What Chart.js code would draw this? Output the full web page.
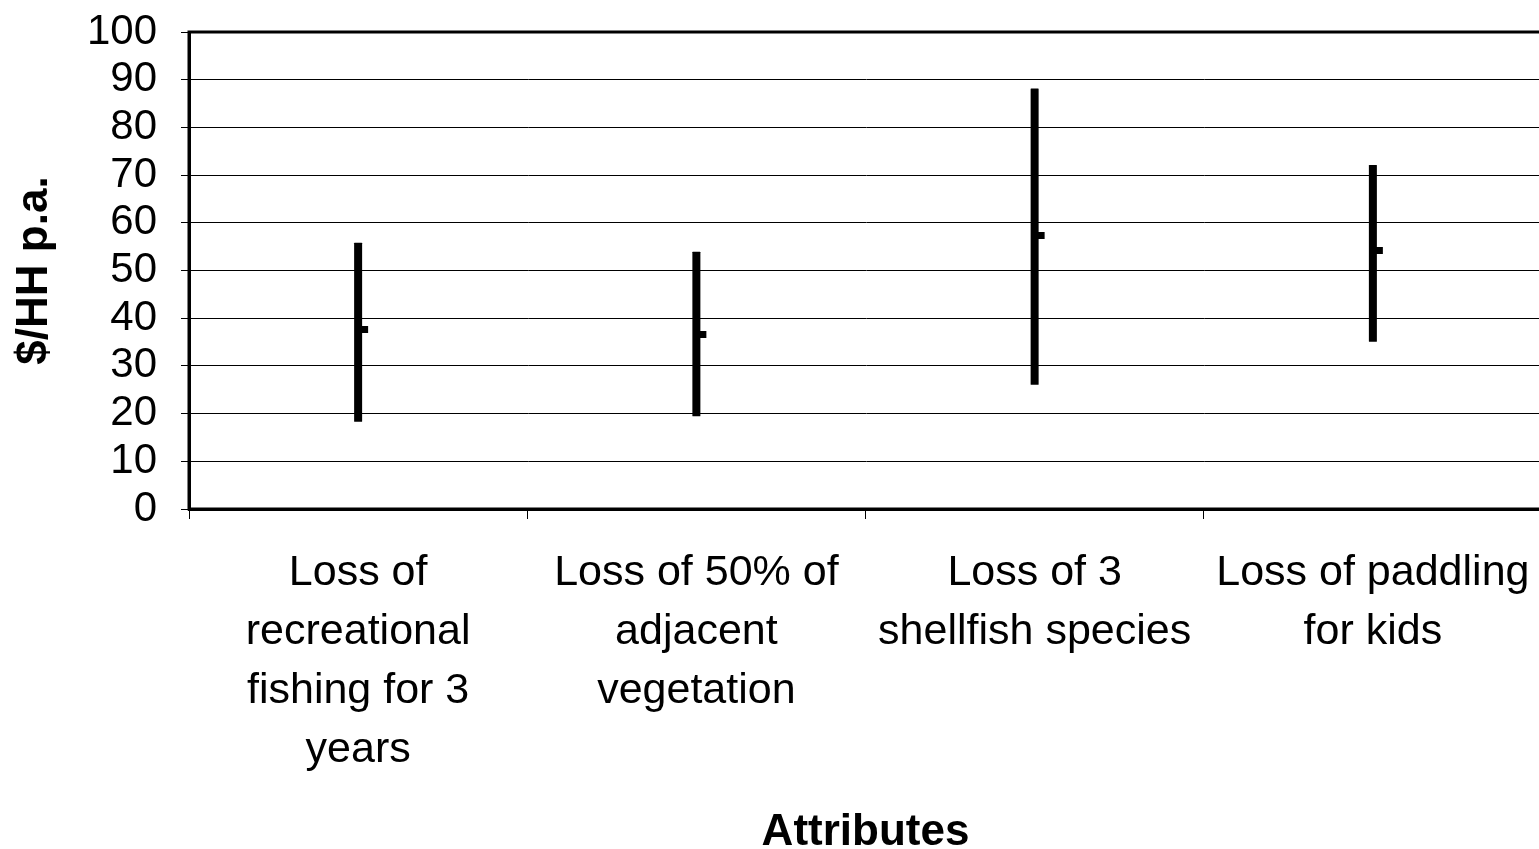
<!DOCTYPE html>
<html>
<head>
<meta charset="utf-8">
<script src="https://cdn.jsdelivr.net/npm/chart.js@4.4.1/dist/chart.umd.min.js"></script>
<style>
  html, body { margin: 0; padding: 0; background: #fff; overflow: hidden; }
  #grafico { display: block; }
</style>
</head>
<body>
<canvas id="grafico" width="1552" height="849"></canvas>
<script>
// categorias y valores (high / low / close)
const categorias = [
  ['Loss of', 'recreational', 'fishing for 3', 'years'],
  ['Loss of 50% of', 'adjacent', 'vegetation'],
  ['Loss of 3', 'shellfish species'],
  ['Loss of paddling', 'for kids']
];
const valoresAlto = [55.1, 53.2, 87.4, 71.4];
const valoresBajo = [19, 20.2, 26.8, 35.8];
const valoresCierre = [37.7, 36.6, 57.4, 54.1];
const ticksY = [0, 10, 20, 30, 40, 50, 60, 70, 80, 90, 100];

// rango de cada barra
const rangos = valoresAlto.map((v, i) => [valoresBajo[i], v]);

// marca de cierre: trazo corto a la derecha del punto
const marcaCierre = document.createElement('canvas');
marcaCierre.width = 24;
marcaCierre.height = 7;
let ctxMarca = marcaCierre.getContext('2d');
ctxMarca.fillStyle = '#000';
ctxMarca.fillRect(12, 0, 10, 7);

const marco = {
  id: 'marco',
  afterDraw: (chart) => {
    const a = chart.chartArea;
    const ctx = chart.ctx;
    ctx.save();
    ctx.strokeStyle = '#000';
    ctx.lineWidth = 3;
    ctx.strokeRect(a.left, a.top, a.right - a.left, a.bottom - a.top);
    ctx.restore();
  }
};

const fuente = "'Liberation Sans', Arial, sans-serif";

var chart = new Chart(document.getElementById('grafico'), {
  type: 'bar',
  data: {
    labels: categorias,
    datasets: [{
      data: rangos,
      backgroundColor: '#000',
      barThickness: 1,
      inflateAmount: 3.5,   // extremos redondeados que sobresalen, como en el original
      borderRadius: 4,
      borderSkipped: false,
      order: 2
    }, {
      type: 'line',
      data: valoresCierre,
      showLine: false,
      pointStyle: marcaCierre,
      pointRadius: 6,
      order: 1
    }]
  },
  options: {
    responsive: false,
    animation: false,
    layout: { padding: { top: 32, right: 10, left: 0, bottom: 0 } },
    plugins: { legend: { display: false }, tooltip: { enabled: false } },
    scales: {
      x: {
        offset: true,
        grid: { offset: true, drawOnChartArea: false, color: '#000', tickLength: 10, lineWidth: 1 },
        border: { color: '#000', width: 3 },
        ticks: {
          color: '#000', padding: 25, maxRotation: 0, autoSkip: false,
          font: { family: fuente, size: 43, lineHeight: 1.37 }
        },
        title: {
          display: true, text: 'Attributes', color: '#000', padding: { top: 0, bottom: -6 },
          font: { family: fuente, size: 44, weight: 'bold', lineHeight: 1 }
        },
        afterFit: (scale) => {
          scale.height = 340;
          scale.paddingLeft = 0;
          scale.paddingRight = 0;
        }
      },
      y: {
        min: 0, max: 100,
        afterBuildTicks: (scale) => { scale.ticks = ticksY.map(v => ({ value: v })); },
        grid: { color: '#000', lineWidth: 1, tickLength: 8 },
        border: { color: '#000', width: 3 },
        ticks: {
          color: '#000', padding: 24, autoSkip: false,
          font: { family: fuente, size: 42 }
        },
        title: {
          display: true, text: '$/HH p.a.', color: '#000', padding: { top: 8, bottom: 0 },
          font: { family: fuente, size: 44, weight: 'bold' }
        },
        afterFit: (scale) => {
          scale.width = 189;
          scale.paddingTop = 0;
          scale.paddingBottom = 0;
        }
      }
    }
  },
  plugins: [marco]
});
</script>
</body>
</html>
